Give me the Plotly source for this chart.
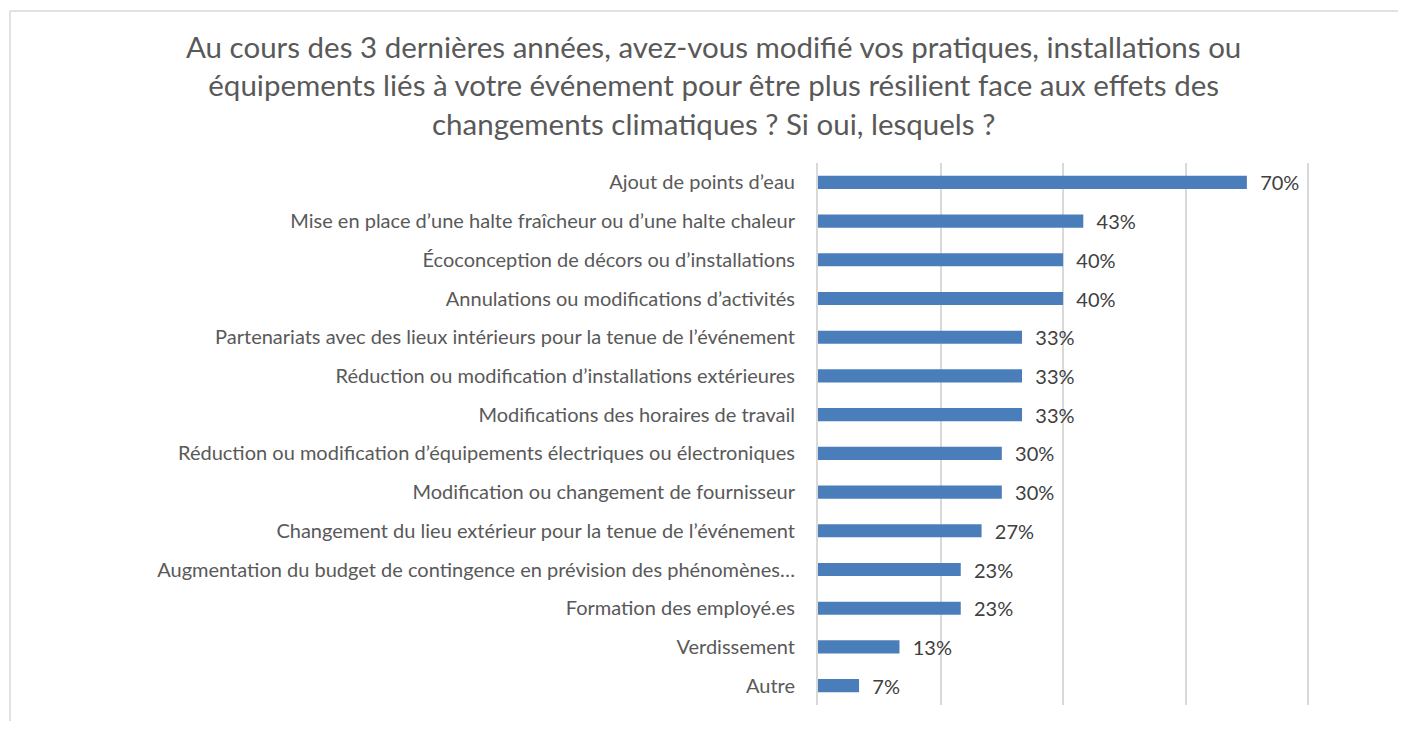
import plotly.graph_objects as go

categories = [
    "Ajout de points d’eau",
    "Mise en place d’une halte fraîcheur ou d’une halte chaleur",
    "Écoconception de décors ou d’installations",
    "Annulations ou modifications d’activités",
    "Partenariats avec des lieux intérieurs pour la tenue de l’événement",
    "Réduction ou modification d’installations extérieures",
    "Modifications des horaires de travail",
    "Réduction ou modification d’équipements électriques ou électroniques",
    "Modification ou changement de fournisseur",
    "Changement du lieu extérieur pour la tenue de l’événement",
    "Augmentation du budget de contingence en prévision des phénomènes…",
    "Formation des employé.es",
    "Verdissement",
    "Autre",
]
values = [0.700, 0.433, 0.400, 0.400, 0.333, 0.333, 0.333, 0.300, 0.300, 0.267, 0.233, 0.233, 0.133, 0.067]

title_text = ("Au cours des 3 dernières années, avez-vous modifié vos pratiques, installations ou<br>"
              "équipements liés à votre événement pour être plus résilient face aux effets des<br>"
              "changements climatiques ? Si oui, lesquels ?")

FONT = "Lato"
# page body has an 8px margin: figure coordinates are offset by 8px
W, H = 1390, 713
ML, MR, MT, MB = 810, 88, 155, 16
PW, PH = W - ML - MR, H - MT - MB

fig = go.Figure(go.Bar(
    x=values, y=categories, orientation="h",
    marker=dict(color="#4a7ebb", line=dict(width=0)),
    width=0.34,
    text=["  " + f"{v:.0%}" for v in values],
    textposition="outside",
    constraintext="none",
    textfont=dict(family=FONT, size=20, color="#404040"),
    cliponaxis=False,
))

fig.update_layout(
    width=W, height=H,
    margin=dict(l=ML, r=MR, t=MT, b=MB),
    paper_bgcolor="white", plot_bgcolor="white",
    showlegend=False,
    xaxis=dict(range=[0, 0.803], tickvals=[0.2, 0.4, 0.6, 0.8], showticklabels=False,
               showgrid=True, gridcolor="#d9d9d9", gridwidth=1.5,
               zeroline=False, showline=False, fixedrange=True),
    yaxis=dict(autorange="reversed", showgrid=False, zeroline=False,
               showline=True, linecolor="#d9d9d9", linewidth=2,
               ticks="", ticklabelstandoff=17,
               tickfont=dict(family=FONT, size=20, color="#595959")),
    annotations=[dict(text=title_text, xref="paper", yref="paper",
                      x=(705 - ML) / PW, y=(H - MB - 19) / PH,
                      xanchor="center", yanchor="top", align="center",
                      showarrow=False,
                      font=dict(family=FONT, size=29.5, color="#595959"))],
    shapes=[
        dict(type="line", xref="paper", yref="paper",
             x0=(2 - ML) / PW, x1=(W + 20 - ML) / PW,
             y0=(H - MB - 3) / PH, y1=(H - MB - 3) / PH,
             line=dict(color="#d9d9d9", width=1.5), layer="below"),
        dict(type="line", xref="paper", yref="paper",
             x0=(2 - ML) / PW, x1=(2 - ML) / PW,
             y0=-(MB + 20) / PH, y1=(H - MB - 3) / PH,
             line=dict(color="#d9d9d9", width=1.5), layer="below"),
    ],
)

fig.write_html("out.html")
